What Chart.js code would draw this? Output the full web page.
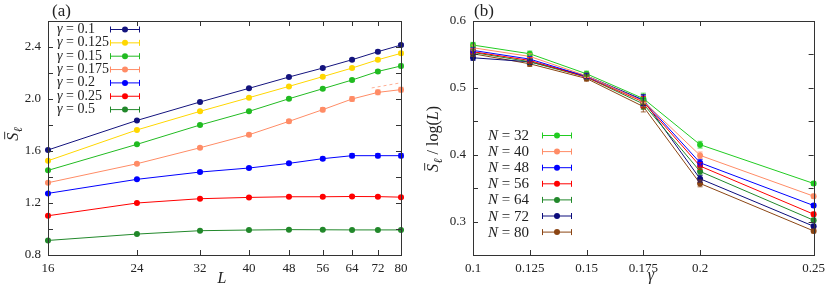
<!DOCTYPE html>
<html><head><meta charset="utf-8">
<script src="https://cdn.jsdelivr.net/npm/chart.js@4"></script>
<style>body{margin:0;background:#fff}#wrap{position:relative;width:831px;height:288px;background:#fff}canvas{position:absolute;top:0}</style>
</head><body><div id="wrap"><canvas id="ca" width="415" height="288" style="left:0;width:415px;height:288px"></canvas><canvas id="cb" width="416" height="288" style="left:415px;width:416px;height:288px"></canvas></div>
<script>
// ---------- Panel (a) data ----------
const L_VALUES = [16, 24, 32, 40, 48, 56, 64, 72, 80];
const GAMMA_LABELS = ['0.1', '0.125', '0.15', '0.175', '0.2', '0.25', '0.5'];
const S_G0100 = [1.608, 1.835, 1.977, 2.082, 2.169, 2.238, 2.302, 2.364, 2.415];
const S_G0125 = [1.525, 1.762, 1.905, 2.010, 2.097, 2.172, 2.238, 2.302, 2.351];
const S_G0150 = [1.451, 1.651, 1.800, 1.905, 2.002, 2.079, 2.146, 2.212, 2.254];
const S_G0175 = [1.356, 1.502, 1.625, 1.725, 1.828, 1.918, 2.000, 2.051, 2.072];
const S_G0200 = [1.274, 1.382, 1.438, 1.469, 1.505, 1.541, 1.564, 1.564, 1.564];
const S_G0250 = [1.102, 1.200, 1.233, 1.243, 1.248, 1.248, 1.250, 1.249, 1.245];
const S_G0500 = [0.912, 0.961, 0.987, 0.992, 0.995, 0.994, 0.993, 0.993, 0.993];
const E_G0100 = [0.005, 0.006, 0.006, 0.008, 0.008, 0.010, 0.010, 0.012, 0.012];
const E_G0125 = [0.005, 0.006, 0.006, 0.008, 0.008, 0.010, 0.010, 0.012, 0.012];
const E_G0150 = [0.005, 0.006, 0.008, 0.008, 0.010, 0.010, 0.012, 0.012, 0.014];
const E_G0175 = [0.006, 0.008, 0.010, 0.012, 0.014, 0.016, 0.018, 0.018, 0.018];
const E_G0200 = [0.005, 0.006, 0.008, 0.008, 0.010, 0.012, 0.016, 0.016, 0.016];
const E_G0250 = [0.004, 0.005, 0.005, 0.006, 0.006, 0.008, 0.008, 0.008, 0.008];
const E_G0500 = [0.003, 0.004, 0.004, 0.004, 0.004, 0.004, 0.004, 0.004, 0.004];
const FIT_L = [70, 80];
const FIT_G0175 = [2.085, 2.125];
const COLORS_A = ['#14147e', '#ffd700', '#22bb22', '#ff8c66', '#0000ff', '#ff0000', '#22882b'];
const Y_TICKS_A = [0.8, 1.0, 1.2, 1.4, 1.6, 1.8, 2.0, 2.2, 2.4, 2.6];
const Y_LABELS_A = ['0.8', '', '1.2', '', '1.6', '', '2.0', '', '2.4', ''];

// ---------- Panel (b) data ----------
const GAMMA_VALUES = [0.1, 0.125, 0.15, 0.175, 0.2, 0.25];
const X_LABELS_B = ['0.1', '0.125', '0.15', '0.175', '0.2', '0.25'];
const N_LABELS = ['32', '40', '48', '56', '64', '72', '80'];
const R_N32 = [0.564, 0.551, 0.521, 0.484, 0.415, 0.357];
const R_N40 = [0.560, 0.547, 0.518, 0.480, 0.399, 0.338];
const R_N48 = [0.556, 0.543, 0.517, 0.481, 0.388, 0.324];
const R_N56 = [0.554, 0.541, 0.516, 0.479, 0.383, 0.311];
const R_N64 = [0.553, 0.539, 0.516, 0.476, 0.375, 0.302];
const R_N72 = [0.545, 0.539, 0.518, 0.482, 0.364, 0.293];
const R_N80 = [0.551, 0.536, 0.514, 0.472, 0.357, 0.286];
const E_B = [0.004, 0.004, 0.004, 0.008, 0.005, 0.003];
const COLORS_B = ['#22cc22', '#ff8c66', '#0000ff', '#ff0000', '#22882b', '#0c0c7c', '#8b4513'];
const Y_TICKS_B = [0.25, 0.3, 0.35, 0.4, 0.45, 0.5, 0.55, 0.6];
const Y_LABELS_B = ['', '0.3', '', '0.4', '', '0.5', '', '0.6'];

const FONT = '"Liberation Serif", "DejaVu Serif", serif';
const INK = '#222';

function frameAndTicks(chart, xVals, yVals) {
  const {ctx, chartArea: a, scales: {x, y}} = chart;
  ctx.save();
  ctx.strokeStyle = '#333'; ctx.lineWidth = 1;
  ctx.strokeRect(Math.round(a.left) + 0.5, Math.round(a.top) + 0.5, Math.round(a.right - a.left), Math.round(a.bottom - a.top));
  const tl = 5;
  ctx.beginPath();
  xVals.forEach(v => { const px = Math.round(x.getPixelForValue(v)) + 0.5;
    ctx.moveTo(px, a.bottom); ctx.lineTo(px, a.bottom - tl);
    ctx.moveTo(px, a.top); ctx.lineTo(px, a.top + tl); });
  yVals.forEach(v => { const py = Math.round(y.getPixelForValue(v)) + 0.5;
    ctx.moveTo(a.left, py); ctx.lineTo(a.left + tl, py);
    ctx.moveTo(a.right, py); ctx.lineTo(a.right - tl, py); });
  ctx.stroke();
  ctx.restore();
}

function drawErrorBars(chart) {
  const {ctx, scales: {y}} = chart;
  ctx.save();
  chart.data.datasets.forEach((ds, i) => {
    if (!ds.err) return;
    const meta = chart.getDatasetMeta(i);
    ctx.strokeStyle = ds.borderColor; ctx.lineWidth = 1; ctx.globalAlpha = 0.8;
    meta.data.forEach((pt, j) => {
      const val = ds.data[j].y, e = ds.err[j];
      const y1 = y.getPixelForValue(val - e), y2 = y.getPixelForValue(val + e);
      ctx.beginPath();
      ctx.moveTo(pt.x, y1); ctx.lineTo(pt.x, y2);
      ctx.moveTo(pt.x - 2.5, y1); ctx.lineTo(pt.x + 2.5, y1);
      ctx.moveTo(pt.x - 2.5, y2); ctx.lineTo(pt.x + 2.5, y2);
      ctx.stroke();
    });
  });
  ctx.restore();
}

function legendSample(ctx, x1, x2, yy, color) {
  ctx.save();
  ctx.strokeStyle = color; ctx.fillStyle = color; ctx.lineWidth = 1;
  ctx.beginPath();
  ctx.moveTo(x1, yy + 0.5); ctx.lineTo(x2, yy + 0.5);
  ctx.moveTo(x1 + 0.5, yy - 2.5); ctx.lineTo(x1 + 0.5, yy + 3.5);
  ctx.moveTo(x2 - 0.5, yy - 2.5); ctx.lineTo(x2 - 0.5, yy + 3.5);
  ctx.stroke();
  ctx.beginPath(); ctx.arc((x1 + x2) / 2, yy + 0.5, 3, 0, Math.PI * 2); ctx.fill();
  ctx.restore();
}

function drawSbar(ctx, x, y, size) {
  ctx.font = `italic ${size}px ${FONT}`;
  ctx.fillText('S', x, y);
  const w = ctx.measureText('S').width;
  ctx.fillRect(x + 1.5, y - size * 0.86, w - 0.5, 0.9);
  ctx.font = `italic ${Math.round(size * 0.72)}px ${FONT}`;
  ctx.fillText('ℓ', x + w + 0.5, y + size * 0.22);
  return x + w + 0.5 + ctx.measureText('ℓ').width;
}
function measureSbar(ctx, size) {
  ctx.font = `italic ${size}px ${FONT}`;
  const w = ctx.measureText('S').width;
  ctx.font = `italic ${Math.round(size * 0.72)}px ${FONT}`;
  return w + 0.5 + ctx.measureText('ℓ').width;
}

const decoA = {
  id: 'decoA',
  afterDatasetsDraw(chart) { drawErrorBars(chart); },
  afterDraw(chart) {
    const ctx = chart.ctx;
    frameAndTicks(chart, L_VALUES, Y_TICKS_A);
    ctx.save();
    ctx.fillStyle = INK; ctx.textBaseline = 'alphabetic';
    ctx.font = `17px ${FONT}`; ctx.textAlign = 'left';
    ctx.fillText('(a)', 52, 16);
    ctx.font = `italic 16px ${FONT}`; ctx.textAlign = 'center';
    ctx.fillText('L', 222, 283);
    ctx.save(); ctx.translate(18, 134); ctx.rotate(-Math.PI / 2); ctx.textAlign = 'left';
    const w = measureSbar(ctx, 16);
    drawSbar(ctx, -w / 2, 0, 16);
    ctx.restore();
    ctx.textAlign = 'left';
    GAMMA_LABELS.forEach((lab, i) => {
      const yy = 29 + i * 13.35;
      ctx.font = `italic 14px ${FONT}`;
      ctx.fillStyle = INK;
      ctx.fillText('γ', 57, yy + 4);
      const gw = ctx.measureText('γ').width;
      ctx.font = `14px ${FONT}`;
      ctx.fillText(' = ' + lab, 57 + gw, yy + 4);
      legendSample(ctx, 110, 140, yy, COLORS_A[i]);
    });
    ctx.restore();
  }
};

const decoB = {
  id: 'decoB',
  afterDatasetsDraw(chart) { drawErrorBars(chart); },
  afterDraw(chart) {
    const ctx = chart.ctx;
    frameAndTicks(chart, GAMMA_VALUES, Y_TICKS_B);
    ctx.save();
    ctx.fillStyle = INK; ctx.textBaseline = 'alphabetic';
    ctx.font = `17px ${FONT}`; ctx.textAlign = 'left';
    ctx.fillText('(b)', 59, 16);
    ctx.font = `italic 16px ${FONT}`; ctx.textAlign = 'center';
    ctx.fillText('γ', 236, 280);
    ctx.save(); ctx.translate(23, 139); ctx.rotate(-Math.PI / 2); ctx.textAlign = 'left';
    const fs = 16;
    const sw = measureSbar(ctx, fs);
    ctx.font = `${fs}px ${FONT}`;
    const t1 = ' / log(', t3 = ')';
    const w1 = ctx.measureText(t1).width, w3 = ctx.measureText(t3).width;
    ctx.font = `italic ${fs}px ${FONT}`;
    const w2 = ctx.measureText('L').width;
    let x0 = -(sw + w1 + w2 + w3) / 2;
    x0 = drawSbar(ctx, x0, 0, fs);
    ctx.font = `${fs}px ${FONT}`; ctx.fillText(t1, x0, 0); x0 += w1;
    ctx.font = `italic ${fs}px ${FONT}`; ctx.fillText('L', x0, 0); x0 += w2;
    ctx.font = `${fs}px ${FONT}`; ctx.fillText(t3, x0, 0);
    ctx.restore();
    N_LABELS.forEach((lab, i) => {
      const yy = 135 + i * 16.1;
      ctx.fillStyle = INK; ctx.textAlign = 'left';
      ctx.font = `italic 15px ${FONT}`;
      ctx.fillText('N', 73, yy + 5);
      const nw = ctx.measureText('N').width;
      ctx.font = `15px ${FONT}`;
      ctx.fillText(' = ' + lab, 73 + nw, yy + 5);
      legendSample(ctx, 127, 157, yy, COLORS_B[i]);
    });
    ctx.restore();
  }
};

function mkDataset(color, xs, ys, errs) {
  return {
    data: xs.map((x, i) => ({x, y: ys[i]})),
    err: errs,
    borderColor: color, backgroundColor: color,
    borderWidth: 1, pointRadius: 3, pointBorderWidth: 0, pointHoverRadius: 3,
    tension: 0, fill: false, clip: false
  };
}

const tickFont = {family: FONT, size: 13};

const seriesA = [S_G0100, S_G0125, S_G0150, S_G0175, S_G0200, S_G0250, S_G0500];
const errA = [E_G0100, E_G0125, E_G0150, E_G0175, E_G0200, E_G0250, E_G0500];
const dsA = seriesA.map((s, i) => mkDataset(COLORS_A[i], L_VALUES, s, errA[i]));
dsA.push({
  data: FIT_L.map((x, i) => ({x, y: FIT_G0175[i]})),
  borderColor: 'rgba(255,140,102,0.7)', borderWidth: 1, borderDash: [3, 3],
  pointRadius: 0, fill: false, clip: false
});
new Chart(document.getElementById('ca'), {
  type: 'line',
  data: { datasets: dsA },
  options: {
    responsive: false, animation: false, devicePixelRatio: 1,
    layout: {padding: {left: 0, right: 14, top: 21, bottom: 0}},
    plugins: {legend: {display: false}, tooltip: {enabled: false}, title: {display: false}},
    scales: {
      x: {
        type: 'logarithmic', min: 16, max: 80,
        afterBuildTicks: s => { s.ticks = L_VALUES.map(v => ({value: v})); },
        afterFit: s => { s.height = 33; },
        grid: {display: false, drawTicks: false}, border: {display: false},
        ticks: {color: INK, font: tickFont, padding: 6, autoSkip: false, maxRotation: 0,
                callback: (v, i) => String(L_VALUES[i])}
      },
      y: {
        type: 'linear', min: 0.8, max: 2.6,
        afterBuildTicks: s => { s.ticks = Y_TICKS_A.map(v => ({value: v})); },
        afterFit: s => { s.width = 48; },
        grid: {display: false, drawTicks: false}, border: {display: false},
        ticks: {color: INK, font: tickFont, padding: 7, autoSkip: false,
                callback: (v, i) => Y_LABELS_A[i]}
      }
    }
  },
  plugins: [decoA]
});

const seriesB = [R_N32, R_N40, R_N48, R_N56, R_N64, R_N72, R_N80];
new Chart(document.getElementById('cb'), {
  type: 'line',
  data: { datasets: seriesB.map((s, i) => mkDataset(COLORS_B[i], GAMMA_VALUES, s, E_B)) },
  options: {
    responsive: false, animation: false, devicePixelRatio: 1,
    layout: {padding: {left: 0, right: 11, top: 21, bottom: 0}},
    plugins: {legend: {display: false}, tooltip: {enabled: false}, title: {display: false}},
    scales: {
      x: {
        type: 'linear', min: 0.1, max: 0.25,
        afterBuildTicks: s => { s.ticks = GAMMA_VALUES.map(v => ({value: v})); },
        afterFit: s => { s.height = 33; },
        grid: {display: false, drawTicks: false}, border: {display: false},
        ticks: {color: INK, font: tickFont, padding: 6, autoSkip: false, maxRotation: 0,
                callback: (v, i) => X_LABELS_B[i]}
      },
      y: {
        type: 'linear', min: 0.25, max: 0.6,
        afterBuildTicks: s => { s.ticks = Y_TICKS_B.map(v => ({value: v})); },
        afterFit: s => { s.width = 58; },
        grid: {display: false, drawTicks: false}, border: {display: false},
        ticks: {color: INK, font: tickFont, padding: 7, autoSkip: false,
                callback: (v, i) => Y_LABELS_B[i]}
      }
    }
  },
  plugins: [decoB]
});
</script>
</body></html>
